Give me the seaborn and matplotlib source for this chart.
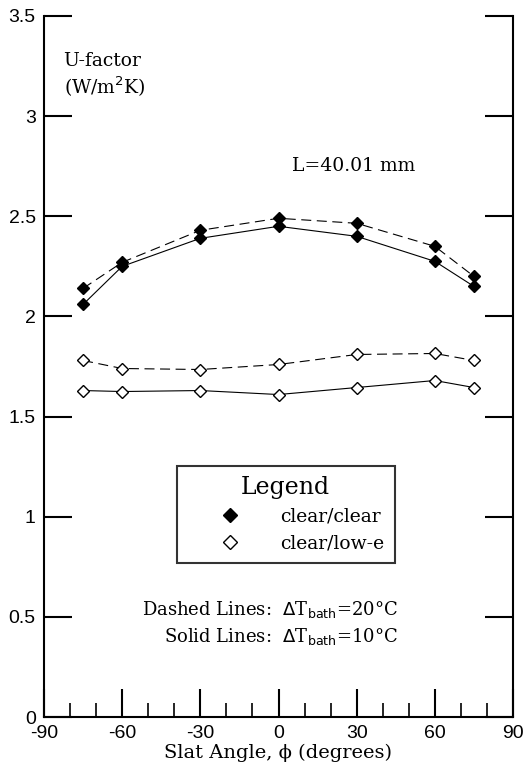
import matplotlib
matplotlib.use("Agg")
import matplotlib.pyplot as plt
import seaborn as sns
from matplotlib.lines import Line2D
from matplotlib.ticker import MultipleLocator

# slat angles (degrees)
angles = [-75, -60, -30, 0, 30, 60, 75]

# U-factor (W/m2K)
clear_clear_20 = [2.14, 2.27, 2.43, 2.49, 2.465, 2.35, 2.20]
clear_clear_10 = [2.06, 2.25, 2.39, 2.45, 2.40, 2.275, 2.15]
clear_lowe_20 = [1.78, 1.74, 1.735, 1.76, 1.81, 1.815, 1.78]
clear_lowe_10 = [1.63, 1.625, 1.63, 1.61, 1.645, 1.68, 1.645]

sns.set_style("white")
serif = ["DejaVu Serif"]
plt.rcParams["font.family"] = ["Liberation Sans", "DejaVu Sans"]
plt.rcParams["text.color"] = "k"
plt.rcParams["xtick.color"] = "k"
plt.rcParams["ytick.color"] = "k"
plt.rcParams["axes.labelcolor"] = "k"

fig = plt.figure(figsize=(5.26, 7.77), dpi=100)
ax = fig.add_axes([44 / 526, 1 - 717 / 777, 469 / 526, 701 / 777])

series = [
    (clear_clear_20, "k", (0, (9, 5))),
    (clear_clear_10, "k", "-"),
    (clear_lowe_20, "white", (0, (9, 5))),
    (clear_lowe_10, "white", "-"),
]
for vals, fc, ls in series:
    sns.lineplot(x=angles, y=vals, ax=ax, color="k", linewidth=0.8,
                 linestyle=ls, marker="D", markersize=6,
                 markerfacecolor=fc, markeredgecolor="k",
                 markeredgewidth=1.0, zorder=3)

ax.set_xlim(-90, 90)
ax.set_ylim(0, 3.5)
ax.xaxis.set_minor_locator(MultipleLocator(10))
ax.set_xticks([-90, -60, -30, 0, 30, 60, 90])
ax.set_xticklabels(["-90", "-60", "-30", "0", "30", "60", "90"])
ax.set_yticks([0, 0.5, 1, 1.5, 2, 2.5, 3, 3.5])
ax.set_yticklabels(["0", "0.5", "1", "1.5", "2", "2.5", "3", "3.5"])

ax.tick_params(axis="x", which="major", direction="in", length=20, width=1.5,
               labelsize=14, pad=6, bottom=True)
ax.tick_params(axis="x", which="minor", direction="in", length=10, width=1.2,
               bottom=True)
ax.tick_params(axis="y", which="major", direction="in", length=20, width=1.5,
               labelsize=14, pad=6, left=True, right=True)

for side in ["left", "right", "bottom"]:
    ax.spines[side].set_linewidth(1.5)
    ax.spines[side].set_color("k")
ax.spines["top"].set_visible(False)

ax.set_xlabel("Slat Angle, \u03d5 (degrees)", family=serif, fontsize=14, labelpad=1)

ax.text(-82.5, 3.32, "U-factor\n(W/m$^2$K)", family=serif, fontsize=13.5,
        va="top", ha="left", linespacing=1.25)
ax.text(29, 2.75, "L=40.01 mm", family=serif, fontsize=13.5, ha="center", va="center")
ax.text(46, 0.535, "Dashed Lines:  $\\Delta$T$_{\\mathrm{bath}}$=20\u00b0C",
        family=serif, fontsize=13, ha="right", va="center")
ax.text(46, 0.40, "Solid Lines:  $\\Delta$T$_{\\mathrm{bath}}$=10\u00b0C",
        family=serif, fontsize=13, ha="right", va="center")

handles = [
    Line2D([], [], linestyle="none", marker="D", markersize=7,
           markerfacecolor="k", markeredgecolor="k"),
    Line2D([], [], linestyle="none", marker="D", markersize=7,
           markerfacecolor="white", markeredgecolor="k"),
]
leg = ax.legend(handles, ["clear/clear", "clear/low-e"], title="Legend",
                loc="upper left", bbox_to_anchor=((177 - 44) / 469, (717 - 466) / 701),
                frameon=True, fancybox=False, handlelength=4.6, handletextpad=0.35,
                borderpad=0.55, labelspacing=0.45, borderaxespad=0,
                prop={"family": serif, "size": 13.5},
                title_fontproperties={"family": serif, "size": 17})
leg.get_frame().set_edgecolor("k")
leg.get_frame().set_linewidth(1.5)

fig.savefig("out.png", dpi=100)
